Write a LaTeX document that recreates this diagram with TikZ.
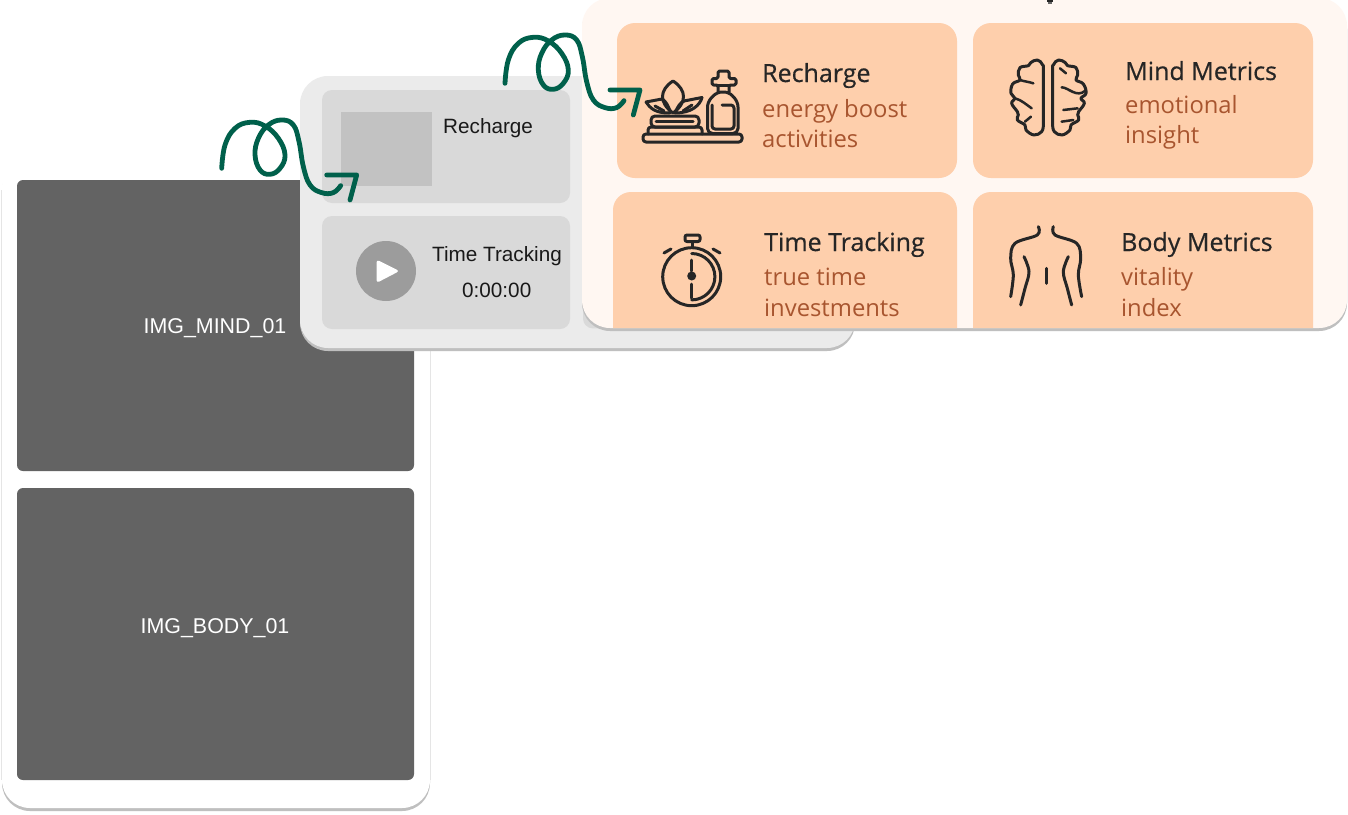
\documentclass[tikz,border=0pt]{standalone}
\usepackage{fontspec}
\setmainfont{Open Sans}
\newfontfamily\uifont{Liberation Sans}
\newfontfamily\titlefont[FakeBold=0.5]{Open Sans}
\usetikzlibrary{shadows}
\definecolor{swirlgreen}{HTML}{00604B}
\definecolor{cardpeach}{HTML}{FECFAC}
\definecolor{panelcream}{HTML}{FFF7F2}
\definecolor{rustbrown}{HTML}{A8552F}
\definecolor{inkdark}{HTML}{262626}
\definecolor{photogrey}{HTML}{636363}
\tikzset{
    panel/.style={rectangle, inner sep=0pt, outer sep=0pt, rounded corners=28pt,
        drop shadow={shadow xshift=0pt, shadow yshift=-3pt, fill=black!25, opacity=1}},
    photo/.style={rectangle, fill=photogrey, inner sep=0pt, rounded corners=6pt},
    photolabel/.style={inner sep=0pt, text=white, font=\uifont\fontsize{21.4}{26}\selectfont},
    greycard/.style={rectangle, fill=black!15, inner sep=0pt, rounded corners=10pt},
    peachcard/.style={rectangle, fill=cardpeach, inner sep=0pt, rounded corners=18pt},
    uitext/.style={anchor=base west, inner sep=0pt, text=black!90, font=\uifont\fontsize{20.7}{24}\selectfont},
    cardtitle/.style={anchor=base west, inner sep=0pt, text=inkdark, font=\titlefont\fontsize{25}{28}\selectfont},
    cardsub/.style={anchor=base west, inner sep=0pt, text=rustbrown, font=\fontsize{23.8}{28}\selectfont},
    icon/.style={draw=inkdark, line width=3pt, line cap=round, line join=round},
    crease/.style={icon, line width=2.5pt},
    swirl/.pic={
        \draw[swirlgreen, line width=4.8pt, line cap=round, line join=round, x=0.3333pt, y=-0.3333pt]
            plot[smooth, tension=0.7] coordinates {(0,0) (10,-70) (40,-120) (85,-138) (130,-127) (170,-90) (190,-40) (175,0) (145,18) (115,5) (100,-40) (110,-90) (140,-130) (180,-145) (215,-130) (232,-80) (245,-5) (265,50) (300,73) (335,73) (357,52)};
        \draw[swirlgreen, line width=4.8pt, line cap=round, line join=round, x=0.3333pt, y=-0.3333pt]
            (315,20) -- (405,20) -- (385,95);
    }
}
\begin{document}
\begin{tikzpicture}[x=1pt, y=-1pt]
    \useasboundingbox (0,0) rectangle (1348,814);
    \fill[white] (0,0) rectangle (1348,814);

    % left phone
    \node[panel, fill=white, minimum width=428pt, minimum height=648pt] (leftpanel) at (216,484) {};
    \draw[black!10, line width=0.6pt] (1.7,190) -- (1.7,780);
    \draw[black!10, line width=0.6pt] (430.3,350) -- (430.3,780);
    \node[photo, minimum width=397pt, minimum height=291pt] (mindphoto) at (215.5,325.5) {};
    \node[photo, minimum width=397pt, minimum height=292pt] (bodyphoto) at (215.5,634) {};
    \node[photolabel] (mindlabel) at (215,328) {IMG\_MIND\_01};
    \node[photolabel] (bodylabel) at (215,628) {IMG\_BODY\_01};

    % middle screen
    \node[panel, fill=black!8, minimum width=555pt, minimum height=272pt] (midpanel) at (577.5,212) {};
    \node[greycard, minimum width=248pt, minimum height=113pt] (midrecharge) at (446,146.5) {};
    \node[greycard, minimum width=248pt, minimum height=113pt] (midtime) at (446,272.5) {};
    \node[greycard, minimum width=240pt, minimum height=112.5pt] (midhidden) at (703,272.2) {};
    \node[inner sep=0pt, fill=black!24, minimum width=91pt, minimum height=74pt] (midthumb) at (386.5,149) {};
    \node[uitext] (midrechargetext) at (443,133) {Recharge};
    \node[uitext] (midtimetext) at (432,261) {Time Tracking};
    \node[uitext] (midclock) at (462,297) {0:00:00};
    \node[circle, fill=black!39, inner sep=0pt, minimum size=60pt] (playbutton) at (386,271) {};
    \fill[white, rounded corners=3pt] (376.5,259.5) -- (399.5,271) -- (376.5,283) -- cycle;

    % right screen
    \node[panel, fill=panelcream, minimum width=765pt, minimum height=330pt] (rightpanel) at (964.5,163) {};
    \fill[inkdark] (1046.5,0) rectangle (1052.5,1.5);
    \fill[inkdark!70] (1047.5,1.5) rectangle (1051.5,3.5);
    \begin{scope}
        \clip[rounded corners=28pt] (582,-2) rectangle (1347,328);
        \node[peachcard, minimum width=340pt, minimum height=155pt] (rechargecard) at (787,100.5) {};
        \node[peachcard, minimum width=340pt, minimum height=155pt] (mindcard) at (1143,100.5) {};
        \node[peachcard, minimum width=344pt, minimum height=170pt] (timecard) at (785,277) {};
        \node[peachcard, minimum width=340pt, minimum height=170pt] (bodycard) at (1143,277) {};
    \end{scope}

    \node[cardtitle] (rechargetitle) at (762,82) {Recharge};
    \node[cardsub] (rechargeone) at (762,117) {energy boost};
    \node[cardsub] (rechargetwo) at (762,147) {activities};
    \node[cardtitle] (mindtitle) at (1125,80) {Mind Metrics};
    \node[cardsub] (mindone) at (1125,113) {emotional};
    \node[cardsub] (mindtwo) at (1125,143) {insight};
    \node[cardtitle] (timetitle) at (764,251) {Time Tracking};
    \node[cardsub] (timeone) at (764,285) {true time};
    \node[cardsub] (timetwo) at (764,316) {investments};
    \node[cardtitle] (bodytitle) at (1121,251) {Body Metrics};
    \node[cardsub] (bodyone) at (1121,285) {vitality};
    \node[cardsub] (bodytwo) at (1121,316) {index};

    % tray and bottle
    \draw[icon, rounded corners=3pt] (643,134) rectangle (742,142);
    \draw[icon, rounded corners=4pt] (651,127) -- (651,116) -- (699,116) -- (699,127) -- cycle;
    \draw[icon, rounded corners=3pt] (648,134) -- (648,127) -- (702,127) -- (702,134);
    \draw[icon] (656,121.5) -- (693,121.5);
    \draw[icon] (673,81) .. controls (659,90) and (659,103) .. (673,113) .. controls (687,103) and (687,90) .. (673,81);
    \draw[icon, rounded corners=2pt] (646,102) -- (662,99);
    \draw[icon, rounded corners=2pt] (646,102) .. controls (650,108) and (655,113) .. (671,113) .. controls (668,106) and (666,101) .. (662,99);
    \draw[icon] (655,106) -- (664,111);
    \draw[icon, rounded corners=2pt] (702,97.5) -- (684,101);
    \draw[icon] (702,97.5) .. controls (700,105) and (692,113) .. (675,113) .. controls (678,106) and (680,103) .. (684,101);
    \draw[icon] (692,105) -- (683,111);
    \draw[icon, rounded corners=5pt] (707.5,133.5) -- (707.5,102) -- (717,92) -- (729,92) -- (738,102) -- (738,133.5) -- cycle;
    \draw[icon, rounded corners=3pt] (712,105) -- (712,129) -- (734,129) -- (734,105) -- (722,105);
    \draw[icon, rounded corners=1.5pt] (718,92) -- (718,85) -- (712,85) -- (712,78.5) -- (718,78.5) -- (718,71) -- (729,71) -- (729,78.5) -- (736,78.5) -- (736,85) -- (729,85) -- (729,92);
    \draw[icon] (718,85) -- (729,85);

    % stopwatch
    \draw[icon] (691.7,276.7) circle (29pt);
    \draw[icon] (691.7,253.5) .. controls (704.5,253.5) and (714.9,263.9) .. (714.9,276.7) .. controls (714.9,289.5) and (704.5,299.9) .. (691.7,299.9);
    \draw[icon, rounded corners=2pt] (685,235) rectangle (700,241.5);
    \draw[icon] (692,241.5) -- (692,247.5);
    \draw[icon] (664,253) -- (671,249);
    \draw[icon] (720,253) -- (713,249);
    \draw[icon] (691.7,260) -- (691.7,271);
    \draw[icon] (691.7,284) -- (691.7,298);
    \fill[inkdark] (691.7,276) circle (4.5pt);

    % brain, in steps of a third
    \begin{scope}[shift={(960,0)}, x=0.3333pt, y=-0.3333pt]
        \draw[icon] plot[smooth, tension=0.7] coordinates {(250,375) (250,220) (248,195) (232,180) (212,188) (205,197) (180,203) (175,225) (180,240) (158,252) (153,280) (165,295) (155,310) (172,335) (175,345) (172,360) (195,375) (198,390) (222,405) (245,395) (250,375)};
        \draw[icon] plot[smooth, tension=0.7] coordinates {(278,375) (278,220) (280,195) (296,180) (316,188) (323,197) (348,203) (353,225) (348,240) (370,252) (378,280) (363,295) (373,310) (356,335) (353,345) (356,360) (333,375) (330,390) (306,405) (283,395) (278,375)};
        \draw[crease] (180,240) .. controls (195,245) and (205,245) .. (220,250);
        \draw[crease] (165,295) .. controls (185,300) and (200,315) .. (215,325);
        \draw[crease] (195,365) -- (213,350);
        \draw[crease] (305,262) .. controls (325,262) and (350,295) .. (376,272);
        \draw[crease] (310,330) -- (353,325);
        \draw[crease] (305,365) -- (340,360);
        \draw[crease] (300,205) -- (318,220);
    \end{scope}

    % back
    \begin{scope}[shift={(960,0)}, x=0.3333pt, y=-0.3333pt]
        \draw[icon] plot[smooth, tension=0.6] coordinates {(235,680) (232,705) (165,730) (152,775) (160,825) (152,890)};
        \draw[icon] plot[smooth, tension=0.6] coordinates {(280,680) (285,705) (350,730) (362,775) (355,825) (365,890)};
        \draw[icon] plot[smooth, tension=0.6] coordinates {(192,770) (207,815) (195,865) (182,915)};
        \draw[icon] plot[smooth, tension=0.6] coordinates {(325,770) (310,815) (322,865) (335,915)};
        \draw[icon] (258,805) -- (258,850);
    \end{scope}

    % arrows between the screens
    \coordinate (swirlone) at (221.7,168.3);
    \coordinate (swirltwo) at (505,83.3);
    \pic at (swirlone) {swirl};
    \pic at (swirltwo) {swirl};
\end{tikzpicture}
\end{document}
